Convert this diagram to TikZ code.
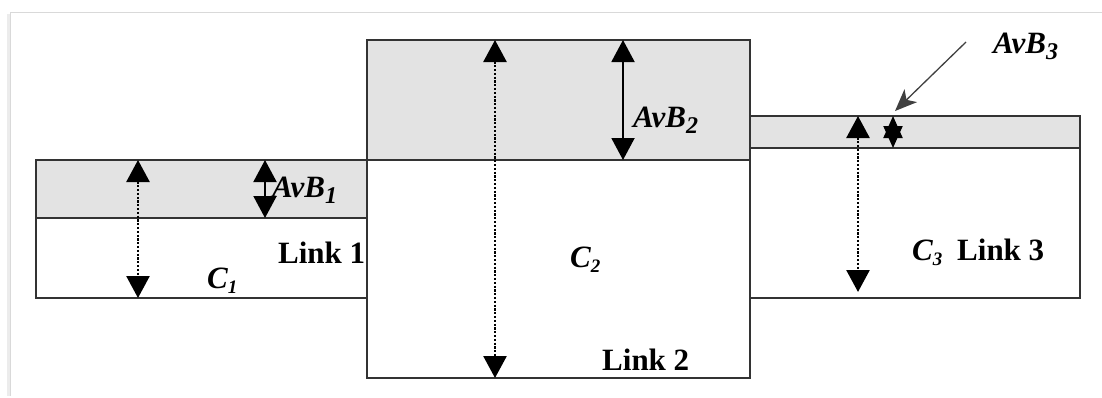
\documentclass[tikz,border=0pt]{standalone}
\usepackage{fontspec}
\setmainfont{Liberation Serif}
\usetikzlibrary{arrows.meta}
\tikzset{
  box/.style={draw=black!80, line width=1.5pt},
  band/.style={box, fill=gray!22},
  dim/.style={line width=2pt, {Triangle[width=23pt,length=22pt]}-{Triangle[width=23pt,length=22pt]}},
  dotdim/.style={dim, line width=2.6pt, dash pattern=on 2.2pt off 1.6pt},
  tinydim/.style={line width=2pt, {Triangle[width=19pt,length=22pt]}-{Triangle[width=19pt,length=22pt]}},
  pointer/.style={draw=black!75, line width=1.3pt, -{Stealth[length=22pt,width=18pt,inset=6pt]}},
  lbl/.style={inner sep=0pt, anchor=base west, font=\fontsize{31}{36}\selectfont},
  itl/.style={lbl, font=\fontsize{31}{36}\selectfont\bfseries\itshape},
  bld/.style={lbl, font=\fontsize{31}{36}\selectfont\bfseries},
}
\newcommand{\bigsub}[1]{\raisebox{-6pt}{\fontsize{24}{26}\selectfont #1}}
\newcommand{\smallsub}[1]{\raisebox{-5pt}{\fontsize{19}{21}\selectfont #1}}
\begin{document}
\begin{tikzpicture}[x=1pt,y=-1pt]
\useasboundingbox (0,0) rectangle (1102,397);
% faint frame
\draw[gray!30, line width=1pt] (10,396) -- (10,12) -- (1102,12);
\draw[gray!15, line width=3pt] (8,396) -- (8,14);
% link 1
\draw[band] (36,160) rectangle (367,218);
\draw[box] (36,218) rectangle (367,298);
% link 2
\draw[band] (367,40) rectangle (750,160);
\draw[box] (367,160) rectangle (750,378);
% link 3
\draw[band] (750,116) rectangle (1080,148);
\draw[box] (750,148) rectangle (1080,298);
% coordinates
\coordinate (d1t) at (138,160); \coordinate (d1b) at (138,298);
\coordinate (a1t) at (265,160); \coordinate (a1b) at (265,218);
\coordinate (d2t) at (495,40);  \coordinate (d2b) at (495,378);
\coordinate (a2t) at (623,40);  \coordinate (a2b) at (623,160);
\coordinate (d3t) at (858,116); \coordinate (d3b) at (858,292);
\coordinate (a3t) at (893,116); \coordinate (a3b) at (893,148);
\coordinate (p3s) at (966,42);  \coordinate (p3e) at (895,111);
% arrows
\draw[dotdim] (d1t) -- (d1b);
\draw[dim] (a1t) -- (a1b);
\draw[dotdim] (d2t) -- (d2b);
\draw[dim] (a2t) -- (a2b);
\draw[dotdim] (d3t) -- (d3b);
\draw[tinydim] (a3t) -- (a3b);
\draw[pointer] (p3s) -- (p3e);
% labels
\node[itl] (l1) at (272,197) {AvB\bigsub{1}};
\node[itl] (l2) at (633,127) {AvB\bigsub{2}};
\node[itl] (l3) at (993,53) {AvB\bigsub{3}};
\node[bld] (k1) at (278,263) {Link 1};
\node[bld] (k2) at (602,370) {Link 2};
\node[bld] (k3) at (957,260) {Link 3};
\node[itl] (c1) at (207,288) {C\smallsub{1}};
\node[itl] (c2) at (570,267) {C\smallsub{2}};
\node[itl] (c3) at (912,260) {C\smallsub{3}};
\end{tikzpicture}
\end{document}
